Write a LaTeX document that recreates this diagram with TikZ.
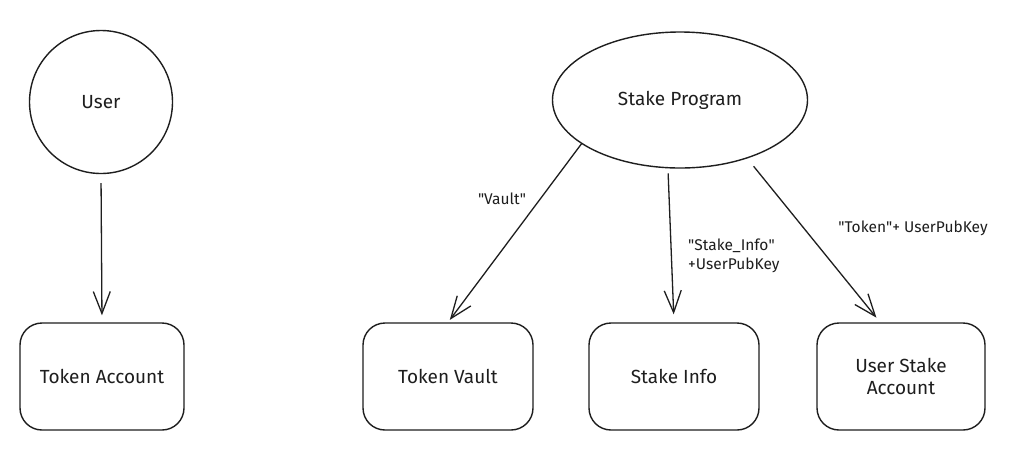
\documentclass[tikz,border=0pt]{standalone}
\usepackage{fontspec}
\setmainfont{Fira Sans}
\usetikzlibrary{shapes.geometric,arrows.meta}
\definecolor{ink}{RGB}{30,30,30}
\newcommand{\dq}{\textquotedbl}
\tikzset{
  ent/.style={draw=ink, line width=1.4pt, text=ink, font=\fontsize{19}{22}\selectfont, inner sep=0pt},
  roundbox/.style={ent, rectangle, rounded corners=22pt, minimum height=107pt, align=center},
  link/.style={draw=ink, line width=1.3pt, -{Straight Barb[length=22pt,width=17pt,line width=1.3pt]}},
  lbl/.style={text=ink, font=\fontsize{15.5}{19}\selectfont, inner sep=0pt}
}
\begin{document}
\begin{tikzpicture}[x=1pt,y=-1pt]
  \useasboundingbox[fill=white] (0,0) rectangle (1016,475);

  % actors and program
  \node[ent, circle, minimum size=143pt] (user) at (101,102) {User};
  \node[ent, ellipse, minimum width=255pt, minimum height=136pt] (prog) at (680,100) {Stake Program};

  % accounts
  \node[roundbox, minimum width=164pt] (tokacc) at (102,376.5) {Token Account};
  \node[roundbox, minimum width=170pt] (vault) at (448,376.5) {Token Vault};
  \node[roundbox, minimum width=170pt] (info) at (674,376.5) {Stake Info};
  \node[roundbox, minimum width=168pt] (usa) at (901,376.5) {User Stake\\Account};

  % connectors
  \draw[link, shorten <=9pt, shorten >=7pt] (user.south) -- (tokacc.north);
  \draw[link, shorten >=3pt] (prog.204.5) -- (vault.north);
  \draw[link, shorten <=5pt, shorten >=8pt] (prog.260) -- (info.north);
  \draw[link, shorten <=10pt, shorten >=6pt] (prog.-41.3) -- (usa.111.4);

  % seed labels
  \node[lbl] (lvault) at (502,199) {\dq Vault\dq};
  \node[lbl, align=left, anchor=west] (linfo) at (688,256) {\dq Stake\_Info\dq\\+UserPubKey};
  \node[lbl] (lusa) at (913,228) {\dq Token\dq + UserPubKey};
\end{tikzpicture}
\end{document}
